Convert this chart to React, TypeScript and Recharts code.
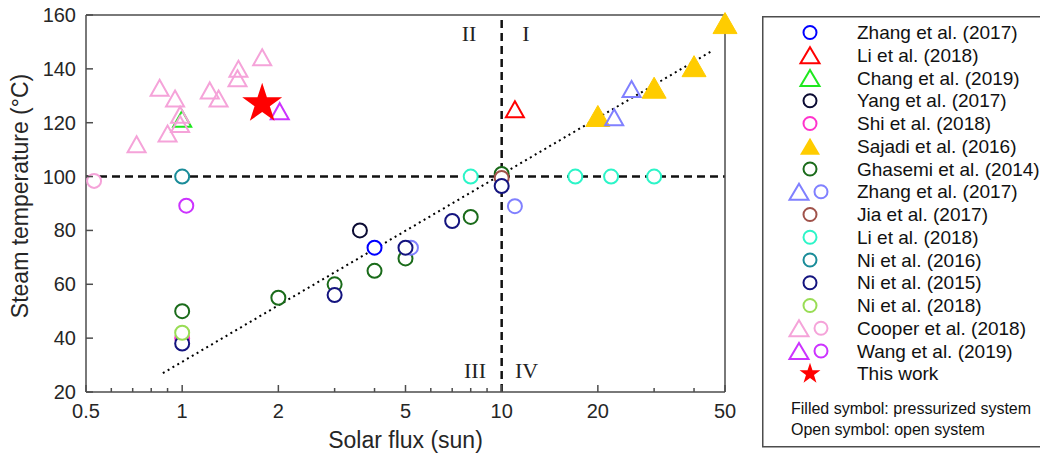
import { ComposedChart, Scatter, Line, XAxis, YAxis, ReferenceLine, ReferenceDot, Legend } from 'recharts'

const SANS = '"Liberation Sans", Arial, sans-serif'
const SERIF = '"Liberation Serif", "Times New Roman", serif'
const AXIS = '#4d4d4d'
const TEXT = '#262626'

const xTicks = [0.5, 0.6, 0.7, 0.8, 0.9, 1, 2, 3, 4, 5, 6, 7, 8, 9, 10, 20, 30, 40, 50]
const xLabelled = [0.5, 1, 2, 5, 10, 20, 50]
const yTicks = [20, 40, 60, 80, 100, 120, 140, 160]

// series (solar flux in suns, steam temperature in °C)
const zhangA = [{ x: 4, y: 73.6 }]
const liA = [{ x: 11, y: 125 }]
const chang = [{ x: 1, y: 121.5 }]
const yang = [{ x: 3.6, y: 80 }]
const shi = [{ x: 1, y: 40 }]
const sajadi = [{ x: 20, y: 122.5 }, { x: 30, y: 133 }, { x: 40, y: 141 }, { x: 50, y: 157 }]
const ghasemi = [{ x: 1, y: 50 }, { x: 2, y: 55 }, { x: 3, y: 60 }, { x: 4, y: 65 }, { x: 5, y: 69.6 }, { x: 8, y: 85 }, { x: 10, y: 101 }]
const zhangBTri = [{ x: 22.5, y: 122 }, { x: 25.5, y: 132.5 }]
const zhangBCirc = [{ x: 5.2, y: 73.6 }, { x: 11, y: 89 }]
const jia = [{ x: 10, y: 99.5 }]
const liB = [{ x: 8, y: 100 }, { x: 17, y: 100 }, { x: 22, y: 100 }, { x: 30, y: 100 }]
const ni2016 = [{ x: 1, y: 100 }]
const ni2015 = [{ x: 1, y: 38 }, { x: 3, y: 56 }, { x: 5, y: 73.6 }, { x: 7, y: 83.5 }, { x: 10, y: 96.5 }]
const ni2018 = [{ x: 1, y: 42 }]
const cooperTri = [
  { x: 0.72, y: 112 }, { x: 0.85, y: 133 }, { x: 0.95, y: 129 }, { x: 0.9, y: 116 }, { x: 0.985, y: 119.5 },
  { x: 0.985, y: 123 }, { x: 1.22, y: 132 }, { x: 1.3, y: 129 }, { x: 1.49, y: 136.5 }, { x: 1.5, y: 140 }, { x: 1.78, y: 144.3 },
]
const cooperCirc = [{ x: 0.53, y: 98.4 }]
const wangTri = [{ x: 2.02, y: 124.3 }]
const wangCirc = [{ x: 1.03, y: 89.2 }]
const thisWork = [{ x: 1.78, y: 127 }]
const trend = [{ x: 0.87, y: 27 }, { x: 45, y: 146.3 }]

const quadrants = [
  { label: 'II', x: 7.9, y: 153.3 },
  { label: 'I', x: 11.9, y: 153.3 },
  { label: 'III', x: 8.25, y: 28.2 },
  { label: 'IV', x: 11.96, y: 28.2 },
]

const C = {
  zhangA: '#0000ff', liA: '#ff0000', chang: '#1ee81e', yang: '#0b0b33', shi: '#ff33cc',
  sajadi: '#ffcc00', ghasemi: '#1a6b1a', zhangB: '#8080ff', jia: '#a0524a', liB: '#2cf5c8',
  ni2016: '#1a8c99', ni2015: '#14147f', ni2018: '#99dd55', cooper: '#f5a3d9', wang: '#cc33ff', star: '#ff0000',
}

const legendItems = [
  { name: 'Zhang et al. (2017)', marks: [['c', C.zhangA]] },
  { name: 'Li et al. (2018)', marks: [['t', C.liA]] },
  { name: 'Chang et al. (2019)', marks: [['t', C.chang]] },
  { name: 'Yang et al. (2017)', marks: [['c', C.yang]] },
  { name: 'Shi et al. (2018)', marks: [['c', C.shi]] },
  { name: 'Sajadi et al. (2016)', marks: [['f', C.sajadi]] },
  { name: 'Ghasemi et al. (2014)', marks: [['c', C.ghasemi]] },
  { name: 'Zhang et al. (2017)', marks: [['t', C.zhangB], ['c', C.zhangB]] },
  { name: 'Jia et al. (2017)', marks: [['c', C.jia]] },
  { name: 'Li et al. (2018)', marks: [['c', C.liB]] },
  { name: 'Ni et al. (2016)', marks: [['c', C.ni2016]] },
  { name: 'Ni et al. (2015)', marks: [['c', C.ni2015]] },
  { name: 'Ni et al. (2018)', marks: [['c', C.ni2018]] },
  { name: 'Cooper et al. (2018)', marks: [['t', C.cooper], ['c', C.cooper]] },
  { name: 'Wang et al. (2019)', marks: [['t', C.wang], ['c', C.wang]] },
  { name: 'This work', marks: [['s', C.star]] },
]

function starPath(cx: number, cy: number, R: number) {
  const r = R * 0.382
  let d = ''
  for (let i = 0; i < 10; i++) {
    const rad = i % 2 === 0 ? R : r
    const a = -Math.PI / 2 + (i * Math.PI) / 5
    d += (i ? 'L' : 'M') + (cx + rad * Math.cos(a)).toFixed(2) + ',' + (cy + rad * Math.sin(a)).toFixed(2)
  }
  return d + 'Z'
}

const triPath = (cx: number, cy: number, w: number, h: number) =>
  `M${cx},${cy - h / 2}L${cx + w / 2},${cy + h / 2}L${cx - w / 2},${cy + h / 2}Z`

const openCircle = (color: string) => (p: any) =>
  <circle cx={p.cx} cy={p.cy} r={7} fill="#fff" stroke={color} strokeWidth={2} />
const openTri = (color: string) => (p: any) =>
  <path d={triPath(p.cx, p.cy, 18, 16)} fill="none" stroke={color} strokeWidth={2} />
const filledTri = (color: string) => (p: any) =>
  <path d={triPath(p.cx, p.cy, 24, 21)} fill={color} stroke={color} strokeWidth={1} />
const star = (color: string) => (p: any) => <path d={starPath(p.cx, p.cy, 21)} fill={color} />

function LegendMark({ kind, color, x, y }: { kind: string; color: string; x: number; y: number }) {
  if (kind === 'c') return <circle cx={x} cy={y} r={6.5} fill="none" stroke={color} strokeWidth={2} />
  if (kind === 't') return <path d={triPath(x, y, 19, 16)} fill="none" stroke={color} strokeWidth={2} />
  if (kind === 'f') return <path d={triPath(x, y, 20, 17)} fill={color} />
  return <path d={starPath(x, y, 11)} fill={color} />
}

function LegendBox() {
  return (
    <svg width={300} height={432} style={{ display: 'block' }}>
      <rect x={0.75} y={0.75} width={300} height={430} fill="#fff" stroke={AXIS} strokeWidth={1.5} />
      {legendItems.map((item, i) => {
        const cy = 16.5 + i * 22.75
        const xs = item.marks.length === 2 ? [37, 59] : [48]
        return (
          <g key={i}>
            {item.marks.map((m, j) => <LegendMark key={j} kind={m[0]} color={m[1]} x={xs[j]} y={cy} />)}
            <text x={95} y={cy + 6.7} fontSize={19} fontFamily={SANS} fill="#111">{item.name}</text>
          </g>
        )
      })}
      <text x={29} y={398} fontSize={16} fontFamily={SANS} fill="#111">Filled symbol: pressurized system</text>
      <text x={29} y={418.5} fontSize={16} fontFamily={SANS} fill="#111">Open symbol: open system</text>
    </svg>
  )
}

const BottomTick = ({ x, y, payload }: any) => {
  const major = xLabelled.includes(payload.value)
  return (
    <g>
      <line x1={x} x2={x} y1={y} y2={y - (major ? 7 : 4)} stroke={AXIS} strokeWidth={1.5} />
      {major && (
        <text x={x} y={y + 26} textAnchor="middle" fontSize={20} fontFamily={SANS} fill={TEXT}>{payload.value}</text>
      )}
    </g>
  )
}
const TopTick = ({ x, y, payload }: any) => {
  const major = xLabelled.includes(payload.value)
  return <line x1={x} x2={x} y1={y} y2={y + (major ? 7 : 4)} stroke={AXIS} strokeWidth={1.5} />
}
const LeftTick = ({ x, y, payload }: any) => (
  <g>
    <line x1={x} x2={x + 7} y1={y} y2={y} stroke={AXIS} strokeWidth={1.5} />
    <text x={x - 10} y={y + 7} textAnchor="end" fontSize={20} fontFamily={SANS} fill={TEXT}>{payload.value}</text>
  </g>
)
const RightTick = ({ x, y }: any) => <line x1={x} x2={x - 7} y1={y} y2={y} stroke={AXIS} strokeWidth={1.5} />

const YTitle = ({ viewBox }: any) => {
  const cx = viewBox.x + 27.5
  const cy = viewBox.y + viewBox.height / 2 - 7.5
  return (
    <text x={cx} y={cy} transform={`rotate(-90 ${cx} ${cy})`} textAnchor="middle" fontSize={23} fontFamily={SANS} fill={TEXT}>
      Steam temperature (°C)
    </text>
  )
}

const series: [any[], (p: any) => any][] = [
  [zhangA, openCircle(C.zhangA)],
  [liA, openTri(C.liA)],
  [chang, openTri(C.chang)],
  [yang, openCircle(C.yang)],
  [shi, openCircle(C.shi)],
  [sajadi, filledTri(C.sajadi)],
  [ghasemi, openCircle(C.ghasemi)],
  [zhangBTri, openTri(C.zhangB)],
  [zhangBCirc, openCircle(C.zhangB)],
  [jia, openCircle(C.jia)],
  [liB, openCircle(C.liB)],
  [ni2016, openCircle(C.ni2016)],
  [ni2015, openCircle(C.ni2015)],
  [ni2018, openCircle(C.ni2018)],
  [cooperTri, openTri(C.cooper)],
  [cooperCirc, openCircle(C.cooper)],
  [wangTri, openTri(C.wang)],
  [wangCirc, openCircle(C.wang)],
  [thisWork, star(C.star)],
]

export default function App() {
  return (
    <div style={{ position: 'absolute', left: 0, top: 0, width: 1040, height: 461, overflow: 'hidden', background: '#fff' }}>
      <ComposedChart width={1040} height={461} margin={{ top: 14, right: 310, bottom: 0, left: 0 }} style={{ fontFamily: SANS, overflow: 'visible' }}>
        <XAxis
          dataKey="x" type="number" scale="log" domain={[0.5, 50]} ticks={xTicks} interval={0}
          height={69} tickSize={0} tickMargin={0} tick={<BottomTick />} axisLine={{ stroke: AXIS, strokeWidth: 1.5 }}
          label={{ value: 'Solar flux (sun)', position: 'insideBottom', offset: 13, fontSize: 23, fill: TEXT, fontFamily: SANS }}
        />
        <XAxis
          xAxisId="top" orientation="top" dataKey="x" type="number" scale="log" domain={[0.5, 50]} ticks={xTicks}
          interval={0} height={1} tickSize={0} tickMargin={0} tick={<TopTick />}
          axisLine={{ stroke: AXIS, strokeWidth: 1.5 }}
        />
        <YAxis
          type="number" domain={[20, 160]} ticks={yTicks} interval={0} width={86}
          tickSize={0} tickMargin={0} tick={<LeftTick />} axisLine={{ stroke: AXIS, strokeWidth: 1.5 }}
          label={{ content: (props: any) => <YTitle viewBox={props.viewBox} /> }}
        />
        <YAxis
          yAxisId="right" orientation="right" type="number" domain={[20, 160]} ticks={yTicks} interval={0}
          width={5} tickSize={0} tickMargin={0} tick={<RightTick />}
          axisLine={{ stroke: AXIS, strokeWidth: 1.5 }}
        />
        <ReferenceLine y={100} stroke="#111" strokeWidth={2.5} strokeDasharray="8 5" />
        <ReferenceLine x={10} stroke="#111" strokeWidth={2.5} strokeDasharray="8 5" />
        <Line data={trend} dataKey="y" type="linear" stroke="#000" strokeWidth={2} strokeDasharray="2 3.6"
          dot={false} activeDot={false} isAnimationActive={false} />
        {quadrants.map(q => (
          <ReferenceDot key={q.label} x={q.x} y={q.y} r={0} fill="none" stroke="none"
            label={{ value: q.label, position: 'center', fontSize: 22, fontFamily: SERIF, fill: '#222' }} />
        ))}
        {series.map(([data, shape], i) => (
          <Scatter key={i} data={data} dataKey="y" shape={shape} isAnimationActive={false} />
        ))}
        <Legend layout="vertical" align="center" verticalAlign="middle" content={() => <LegendBox />}
          wrapperStyle={{ left: 762, top: 16, width: 300, height: 432 }} />
      </ComposedChart>
    </div>
  )
}
